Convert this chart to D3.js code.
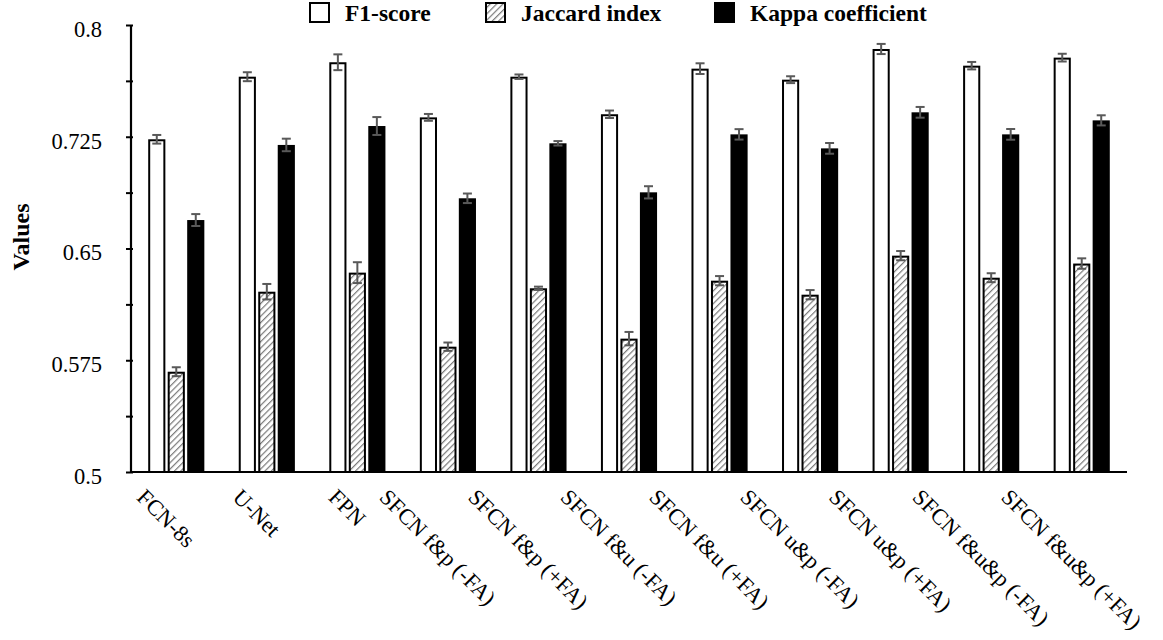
<!DOCTYPE html>
<html>
<head>
<meta charset="utf-8">
<script src="https://cdn.jsdelivr.net/npm/d3@7"></script>
<style>
  html, body { margin: 0; padding: 0; background: #fff; }
  svg { display: block; }
  svg text { font-family: "Liberation Serif", "Times New Roman", Times, serif; }
</style>
</head>
<body>
<svg id="chart" width="1163" height="640"></svg>
<script>
// ---------------- data ----------------
const categories = ["FCN-8s", "U-Net", "FPN", "SFCN f&p (-FA)", "SFCN f&p (+FA)", "SFCN f&u (-FA)",
  "SFCN f&u (+FA)", "SFCN u&p (-FA)", "SFCN u&p (+FA)", "SFCN f&u&p (-FA)", "SFCN f&u&p (+FA)"];
const seriesNames = ["F1-score", "Jaccard index", "Kappa coefficient"];
const f1Values = [0.7233, 0.7653, 0.7750, 0.7380, 0.7653, 0.7401, 0.7707, 0.7633, 0.7839, 0.7727, 0.7781];
const f1Errors = [0.0029, 0.0030, 0.0053, 0.0023, 0.0015, 0.0025, 0.0036, 0.0023, 0.0034, 0.0025, 0.0026];
const jaccardValues = [0.5673, 0.6210, 0.6338, 0.5841, 0.6233, 0.5895, 0.6284, 0.6190, 0.6452, 0.6304, 0.6399];
const jaccardErrors = [0.0030, 0.0052, 0.0070, 0.0028, 0.0011, 0.0045, 0.0031, 0.0031, 0.0031, 0.0030, 0.0035];
const kappaValues = [0.6691, 0.7195, 0.7322, 0.6837, 0.7206, 0.6877, 0.7266, 0.7172, 0.7414, 0.7266, 0.7360];
const kappaErrors = [0.0040, 0.0042, 0.0060, 0.0032, 0.0015, 0.0041, 0.0035, 0.0036, 0.0036, 0.0036, 0.0034];
const yTickValues = [0.5, 0.5375, 0.575, 0.6125, 0.65, 0.6875, 0.725, 0.7625, 0.8];
const yTickLabels = ["0.5", "", "0.575", "", "0.65", "", "0.725", "", "0.8"];
const yAxisTitle = "Values";

// ---------------- layout ----------------
const svg = d3.select("#chart");
const plotLeft = 131, plotRight = 1127, plotTop = 25, plotBottom = 472;
const serif = "\"Liberation Serif\", \"Times New Roman\", Times, serif";

const x0 = d3.scaleBand().domain(categories).range([plotLeft, plotRight]).paddingInner(0.38).paddingOuter(0.19);
const x1 = d3.scaleBand().domain(seriesNames).range([0, x0.bandwidth()]).paddingInner(0.12);
const y = d3.scaleLinear().domain([0.5, 0.8]).range([plotBottom, plotTop]);

// hatch pattern
const defs = svg.append("defs");
const pat = defs.append("pattern").attr("id", "hatch").attr("patternUnits", "userSpaceOnUse")
  .attr("width", 4.5).attr("height", 4.5).attr("patternTransform", "rotate(45)");
pat.append("rect").attr("width", 4.5).attr("height", 4.5).attr("fill", "#fff");
pat.append("line").attr("x1", 0).attr("y1", 0).attr("x2", 0).attr("y2", 4.5)
  .attr("stroke", "#7a7a7a").attr("stroke-width", 2.4);

const rows = categories.map((c, i) => ({
  cat: c,
  vals: [
    { s: seriesNames[0], v: f1Values[i], e: f1Errors[i] },
    { s: seriesNames[1], v: jaccardValues[i], e: jaccardErrors[i] },
    { s: seriesNames[2], v: kappaValues[i], e: kappaErrors[i] }
  ]
}));

const fills = { "F1-score": "#fff", "Jaccard index": "url(#hatch)", "Kappa coefficient": "#000" };

const groups = svg.append("g").selectAll("g").data(rows).join("g")
  .attr("transform", d => `translate(${x0(d.cat)},0)`);

groups.selectAll("rect").data(d => d.vals).join("rect")
  .attr("x", d => x1(d.s) + 1)
  .attr("width", x1.bandwidth() - 2)
  .attr("y", d => y(d.v) + 1)
  .attr("height", d => y(0.5) - y(d.v) - 1)
  .attr("fill", d => fills[d.s])
  .attr("stroke", "#000")
  .attr("stroke-width", 2);

// error bars
const eb = groups.selectAll("g.err").data(d => d.vals).join("g").attr("class", "err")
  .attr("stroke", "#595959").attr("stroke-width", 2);
const cap = 4.5;
eb.append("line")
  .attr("x1", d => x1(d.s) + x1.bandwidth() / 2).attr("x2", d => x1(d.s) + x1.bandwidth() / 2)
  .attr("y1", d => y(d.v + d.e)).attr("y2", d => y(d.v - d.e));
eb.append("line")
  .attr("x1", d => x1(d.s) + x1.bandwidth() / 2 - cap).attr("x2", d => x1(d.s) + x1.bandwidth() / 2 + cap)
  .attr("y1", d => y(d.v + d.e)).attr("y2", d => y(d.v + d.e));
eb.append("line")
  .attr("x1", d => x1(d.s) + x1.bandwidth() / 2 - cap).attr("x2", d => x1(d.s) + x1.bandwidth() / 2 + cap)
  .attr("y1", d => y(d.v - d.e)).attr("y2", d => y(d.v - d.e));

// y axis
const yAxis = d3.axisLeft(y).tickValues(yTickValues).tickSize(5).tickPadding(24)
  .tickFormat((d, i) => yTickLabels[i]);
const yg = svg.append("g").attr("transform", `translate(${plotLeft},0)`).call(yAxis);
yg.attr("font-family", null).attr("font-size", null);
yg.select(".domain").attr("stroke", "#000").attr("stroke-width", 2.2).attr("d", `M0,${plotTop}V${plotBottom}`);
yg.selectAll(".tick line").attr("stroke", "#000").attr("stroke-width", 2).attr("x1", 2);
yg.selectAll(".tick text").style("font-family", serif).style("font-size", "22.5px").attr("fill", "#000").attr("dy", "0.5em");

// x axis line
const xg = svg.append("g").attr("transform", `translate(0,${plotBottom})`)
  .call(d3.axisBottom(x0).tickSize(0).tickFormat(""));
xg.select(".domain").attr("stroke", "#000").attr("stroke-width", 2.2).attr("d", `M${plotLeft - 1},0H${plotRight}`);
xg.selectAll(".tick").remove();

// x labels (rotated 45deg)
const xl = svg.append("g");
categories.forEach(c => {
  const t = xl.append("text").text(c)
    .style("font-family", serif).style("font-size", "22.5px").attr("fill", "#000")
    .attr("dy", "0.72em");
  const L = t.node().getComputedTextLength();
  const cx = x0(c) + x0.bandwidth() / 2;
  const sx = cx - 4 - L * 0.7071 / 2;
  t.attr("transform", `translate(${sx},${487}) rotate(45)`);
});

// y axis title
svg.append("text").text(yAxisTitle)
  .attr("transform", "translate(29,237) rotate(-90)")
  .attr("text-anchor", "middle")
  .style("font-family", serif).style("font-size", "24px").style("font-weight", "bold");

// legend
const legendX = [309, 485, 714];
const lg = svg.append("g").selectAll("g").data(seriesNames).join("g")
  .attr("transform", (d, i) => `translate(${legendX[i]},2)`);
lg.append("rect").attr("x", 1).attr("y", 1).attr("width", 19).attr("height", 19)
  .attr("fill", d => fills[d]).attr("stroke", "#000").attr("stroke-width", 2);
lg.append("text").text(d => d).attr("x", 36).attr("y", 19)
  .style("font-family", serif).style("font-size", "23.5px").style("font-weight", "bold");
</script>
</body>
</html>
